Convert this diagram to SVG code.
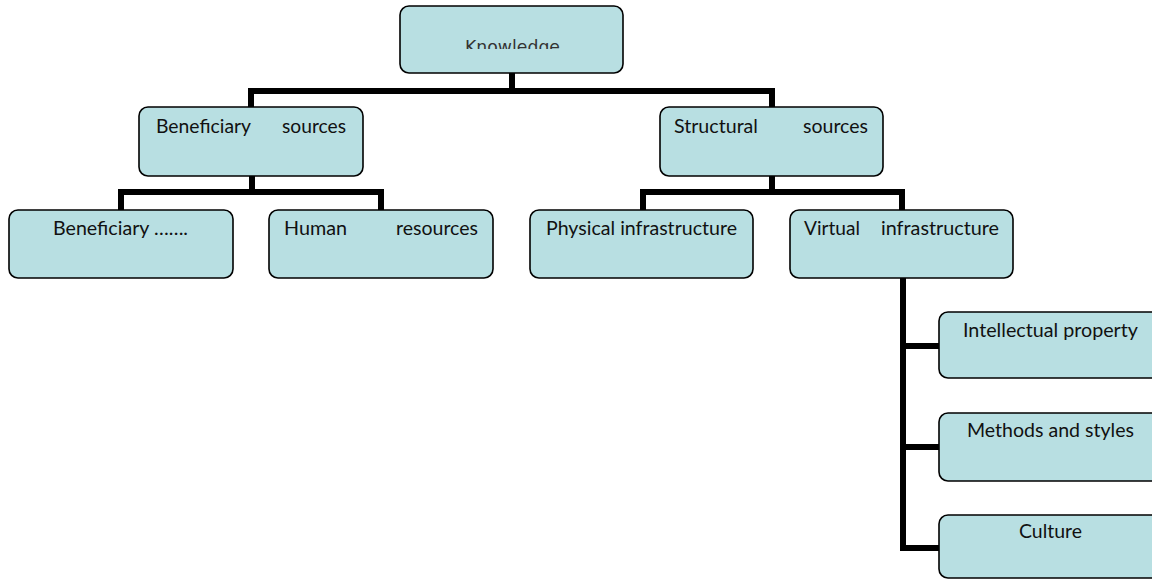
<svg xmlns="http://www.w3.org/2000/svg" width="1152" height="581" viewBox="0 0 1152 581">
<style>
.box{fill:#b8dfe2;stroke:#000;stroke-width:1.6}
.lbl{font-family:Lato,"Open Sans",sans-serif;font-size:18.5px;fill:#111}
.conn{fill:none;stroke:#000;stroke-width:6;stroke-linejoin:miter;stroke-linecap:butt}
</style>
<defs>
<clipPath id="kclip"><rect x="400" y="0" width="224" height="49"/></clipPath>
</defs>
<rect width="1152" height="581" fill="#fff"/>
<g id="connectors">
<path class="conn" d="M512,73 V91"/>
<path class="conn" d="M251,107 V91 H772 V107"/>
<path class="conn" d="M252,176 V192"/>
<path class="conn" d="M121,210 V192 H381 V210"/>
<path class="conn" d="M772,176 V192"/>
<path class="conn" d="M643,210 V192 H902 V210"/>
<path class="conn" d="M903,278 V548 H940"/>
<path class="conn" d="M903,346 H940"/>
<path class="conn" d="M903,447 H940"/>
</g>
<g id="knowledge">
<rect class="box" x="400" y="6" width="223" height="67" rx="9"/>
<text clip-path="url(#kclip)" x="465" y="52.5" font-family="'DejaVu Sans',sans-serif" font-size="17" fill="#333" textLength="95" lengthAdjust="spacingAndGlyphs">Knowledge</text>
</g>
<g id="beneficiary-sources">
<rect class="box" x="139" y="107" width="224" height="69" rx="9"/>
<text class="lbl" x="156" y="133" textLength="95" lengthAdjust="spacingAndGlyphs">Beneficiary</text>
<text class="lbl" x="282" y="133" textLength="64" lengthAdjust="spacingAndGlyphs">sources</text>
</g>
<g id="structural-sources">
<rect class="box" x="660" y="107" width="223" height="69" rx="9"/>
<text class="lbl" x="674" y="133" textLength="84" lengthAdjust="spacingAndGlyphs">Structural</text>
<text class="lbl" x="803" y="133" textLength="65" lengthAdjust="spacingAndGlyphs">sources</text>
</g>
<g id="beneficiary-dots">
<rect class="box" x="9" y="210" width="224" height="68" rx="9"/>
<text class="lbl" x="53" y="235" textLength="135" lengthAdjust="spacingAndGlyphs">Beneficiary …….</text>
</g>
<g id="human-resources">
<rect class="box" x="269" y="210" width="224" height="68" rx="9"/>
<text class="lbl" x="284" y="235" textLength="63" lengthAdjust="spacingAndGlyphs">Human</text>
<text class="lbl" x="396" y="235" textLength="82" lengthAdjust="spacingAndGlyphs">resources</text>
</g>
<g id="physical-infrastructure">
<rect class="box" x="530" y="210" width="223" height="68" rx="9"/>
<text class="lbl" x="546" y="235" textLength="191" lengthAdjust="spacingAndGlyphs">Physical infrastructure</text>
</g>
<g id="virtual-infrastructure">
<rect class="box" x="790" y="210" width="223" height="68" rx="9"/>
<text class="lbl" x="804" y="235" textLength="56" lengthAdjust="spacingAndGlyphs">Virtual</text>
<text class="lbl" x="881" y="235" textLength="118" lengthAdjust="spacingAndGlyphs">infrastructure</text>
</g>
<g id="intellectual-property">
<rect class="box" x="939" y="312" width="224" height="66" rx="9"/>
<text class="lbl" x="963" y="337" textLength="175" lengthAdjust="spacingAndGlyphs">Intellectual property</text>
</g>
<g id="methods-and-styles">
<rect class="box" x="939" y="413" width="224" height="68" rx="9"/>
<text class="lbl" x="967" y="437" textLength="167" lengthAdjust="spacingAndGlyphs">Methods and styles</text>
</g>
<g id="culture">
<rect class="box" x="939" y="515" width="224" height="63" rx="9"/>
<text class="lbl" x="1019" y="538" textLength="63" lengthAdjust="spacingAndGlyphs">Culture</text>
</g>
</svg>
